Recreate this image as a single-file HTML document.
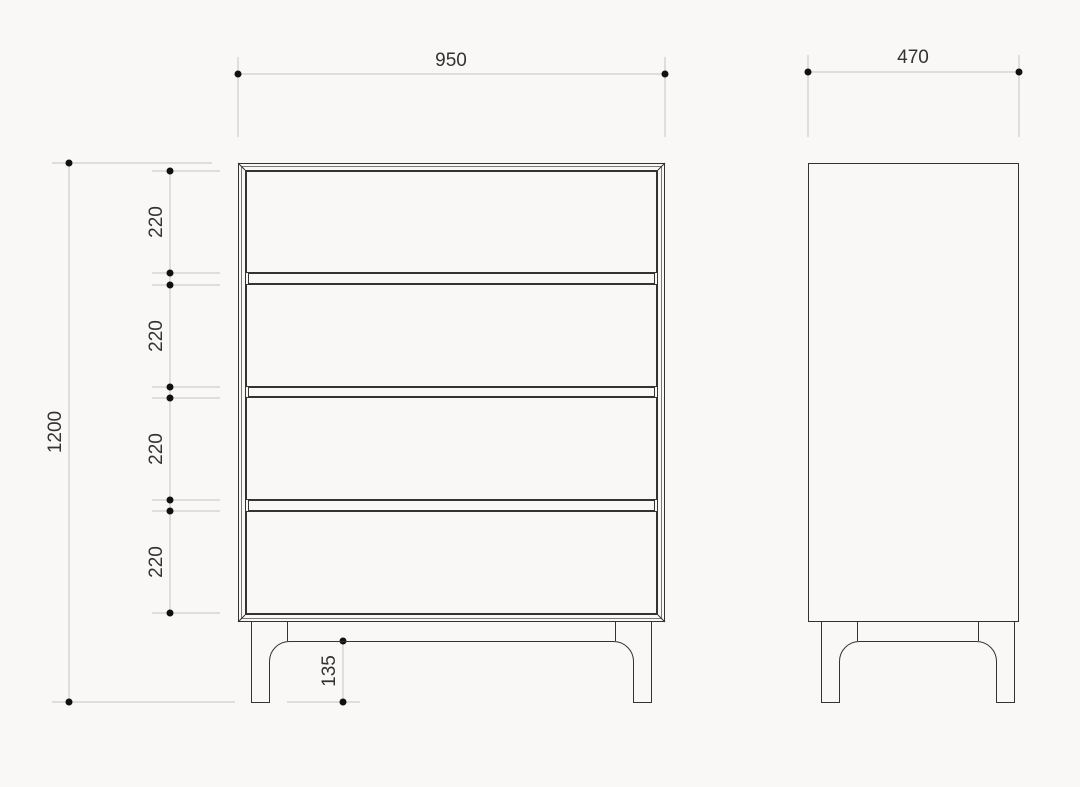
<!DOCTYPE html>
<html><head><style>html,body{margin:0;padding:0;background:#f9f8f6;}svg{display:block}</style></head><body>
<svg width="1080" height="787" viewBox="0 0 1080 787" xmlns="http://www.w3.org/2000/svg" font-family="Liberation Sans, sans-serif">
<rect width="1080" height="787" fill="#f9f8f6"/>
<g stroke="#c4c4c4" stroke-width="1" fill="none">
<line x1="238" y1="57" x2="238" y2="137"/><line x1="665" y1="57" x2="665" y2="137"/><line x1="238" y1="74" x2="665" y2="74"/>
<line x1="808" y1="55" x2="808" y2="137"/><line x1="1019" y1="55" x2="1019" y2="137"/><line x1="808" y1="72" x2="1019" y2="72"/>
<line x1="52" y1="163" x2="212" y2="163"/><line x1="52" y1="702" x2="235" y2="702"/><line x1="69" y1="163" x2="69" y2="702"/>
<line x1="170" y1="171" x2="170" y2="613"/>
<line x1="152" y1="171" x2="220" y2="171"/><line x1="152" y1="273" x2="220" y2="273"/>
<line x1="152" y1="285" x2="220" y2="285"/><line x1="152" y1="387" x2="220" y2="387"/>
<line x1="152" y1="398" x2="220" y2="398"/><line x1="152" y1="500" x2="220" y2="500"/>
<line x1="152" y1="511" x2="220" y2="511"/><line x1="152" y1="613" x2="220" y2="613"/>
<line x1="343" y1="641" x2="343" y2="702"/><line x1="287" y1="702" x2="360" y2="702"/>
</g>
<g fill="#111">
<circle cx="238" cy="74" r="3.5"/><circle cx="665" cy="74" r="3.5"/>
<circle cx="808" cy="72" r="3.5"/><circle cx="1019" cy="72" r="3.5"/>
<circle cx="69" cy="163" r="3.5"/><circle cx="69" cy="702" r="3.5"/>
<circle cx="170" cy="171" r="3.5"/><circle cx="170" cy="273" r="3.5"/>
<circle cx="170" cy="285" r="3.5"/><circle cx="170" cy="387" r="3.5"/>
<circle cx="170" cy="398" r="3.5"/><circle cx="170" cy="500" r="3.5"/>
<circle cx="170" cy="511" r="3.5"/><circle cx="170" cy="613" r="3.5"/>
<circle cx="343" cy="641" r="3.5"/><circle cx="343" cy="702" r="3.5"/>
</g>
<g fill="#333" font-size="19">
<text x="451" y="66" text-anchor="middle">950</text>
<text x="913" y="63" text-anchor="middle">470</text>
<text transform="translate(61,432) rotate(-90)" text-anchor="middle">1200</text>
<text transform="translate(162,222) rotate(-90)" text-anchor="middle">220</text>
<text transform="translate(162,336) rotate(-90)" text-anchor="middle">220</text>
<text transform="translate(162,449) rotate(-90)" text-anchor="middle">220</text>
<text transform="translate(162,562) rotate(-90)" text-anchor="middle">220</text>
<text transform="translate(335,671) rotate(-90)" text-anchor="middle">135</text>
</g>
<g stroke="#333" stroke-width="1" fill="none">
<rect x="238.5" y="163.5" width="426" height="458"/>
<rect x="241.5" y="166.5" width="420" height="452" stroke="#777"/>
<rect x="245.5" y="170.5" width="412" height="444"/>
<line x1="238" y1="163" x2="245" y2="170"/><line x1="665" y1="163" x2="658" y2="170"/>
<line x1="238" y1="622" x2="245" y2="615"/><line x1="665" y1="622" x2="658" y2="615"/>
<rect x="246.5" y="171.5" width="410" height="101"/>
<rect x="248.5" y="273.5" width="406" height="10"/>
<rect x="246.5" y="284.5" width="410" height="102"/>
<rect x="248.5" y="387.5" width="406" height="9"/>
<rect x="246.5" y="397.5" width="410" height="102"/>
<rect x="248.5" y="500.5" width="406" height="10"/>
<rect x="246.5" y="511.5" width="410" height="102"/>
<path d="M251.5 622 V702.5 H269.5 V662 A20 20 0 0 1 289.5 641.5 H613.5 A20 20 0 0 1 633.5 662 V702.5 H651.5 V622"/>
<line x1="287.5" y1="622" x2="287.5" y2="641"/><line x1="615.5" y1="622" x2="615.5" y2="641"/>
<rect x="808.5" y="163.5" width="210" height="458"/>
<path d="M821.5 622 V702.5 H839.5 V662 A20 20 0 0 1 859.5 641.5 H976.5 A20 20 0 0 1 996.5 662 V702.5 H1014.5 V622"/>
<line x1="857.5" y1="622" x2="857.5" y2="641"/><line x1="978.5" y1="622" x2="978.5" y2="641"/>
</g>
</svg>
</body></html>
